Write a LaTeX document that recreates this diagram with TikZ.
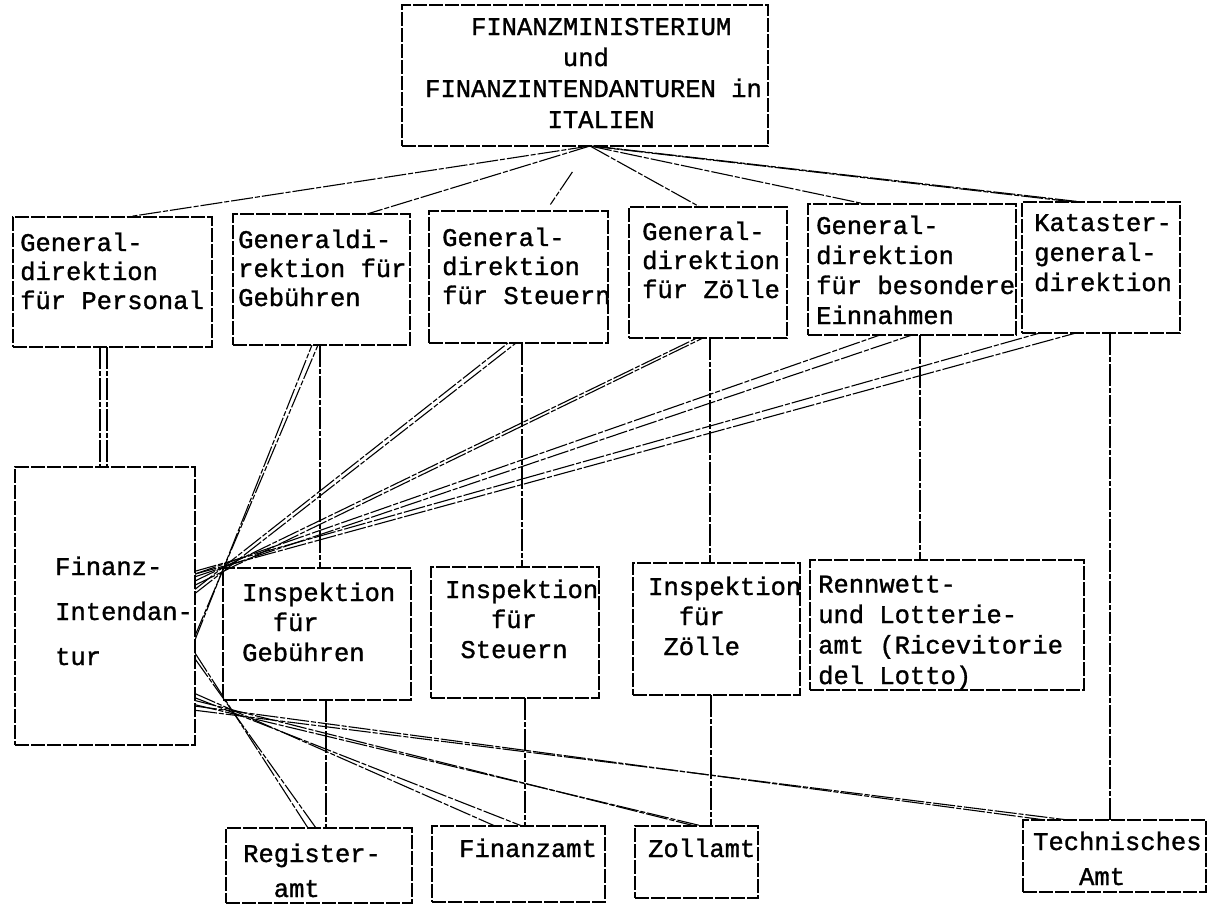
\documentclass[tikz,border=0pt]{standalone}
\usepackage{fontspec}
\setmonofont{Liberation Mono}
\newfontfamily\typen[FakeBold=1.2]{Liberation Mono}
\usetikzlibrary{calc}
\tikzset{
    kasten/.style={draw, rectangle, anchor=north west, inner sep=0pt, outer sep=0pt,
        line width=1.2pt, dash pattern=on 14pt off 2pt},
    schrift/.style={anchor=base west, align=left, inner sep=0pt,
        font=\typen\fontsize{25.5}{#1}\selectfont},
    schrift/.default=29,
    linie/.style={line width=1.1pt, dash pattern=on 22pt off 2pt on 5pt off 2pt},
}
\newcommand\Kasten[5]{%
    \node[kasten, minimum width={#4-#2}, minimum height={#5-#3}] (#1) at (#2,#3) {};
}
\newcommand\ObenStrahl[2]{%
    \draw[linie] ($(FI.north east)!#1!(FI.south east)$) -- (#2);
}

\begin{document}
\begin{tikzpicture}[x=1pt,y=-1pt]
    \fill[white] (0,0) rectangle (1221,905);
    \useasboundingbox (0,0) rectangle (1221,905);
    % Ministerium (Textknoten: Basislinie der letzten Zeile)
    \Kasten{FM}{402}{5}{768}{146}
    \node[schrift=31] (FM-t) at (425,128) {~~~FINANZMINISTERIUM\\~~~~~~~~~und\\FINANZINTENDANTUREN in\\~~~~~~~~ITALIEN};
    % Generaldirektionen
    \Kasten{gdP}{13}{217}{212}{347}
    \Kasten{gdG}{233}{214}{410}{345}
    \Kasten{gdS}{429}{211}{608}{343}
    \Kasten{gdZ}{629}{207}{787}{338}
    \Kasten{gdB}{808}{204}{1016}{335}
    \Kasten{kat}{1022}{202}{1180}{333}
    \node[schrift] (gdP-t) at (20,309) {General-\\direktion\\für Personal};
    \node[schrift] (gdG-t) at (238,306) {Generaldi-\\rektion für\\Gebühren};
    \node[schrift] (gdS-t) at (442,304) {General-\\direktion\\für Steuern};
    \node[schrift] (gdZ-t) at (642,298) {General-\\direktion\\für Zölle};
    \node[schrift=30] (gdB-t) at (816,324) {General-\\direktion\\für besondere\\Einnahmen};
    \node[schrift=30] (kat-t) at (1034,291) {Kataster-\\general-\\direktion};
    % Intendantur und Inspektionen
    \Kasten{FI}{15}{467}{195}{745}
    \Kasten{insG}{223}{568}{411}{700}
    \Kasten{insS}{431}{567}{599}{698}
    \Kasten{insZ}{633}{563}{800}{695}
    \Kasten{lotto}{810}{560}{1084}{690}
    \node[schrift=45] (FI-t) at (55,665) {Finanz-\\Intendan-\\tur};
    \node[schrift=30] (insG-t) at (242,661) {Inspektion\\~~für\\Gebühren};
    \node[schrift=30] (insS-t) at (445,658) {Inspektion\\~~~für\\~Steuern};
    \node[schrift=30] (insZ-t) at (648,655) {Inspektion\\~~für\\~Zölle};
    \node[schrift=30.5] (lotto-t) at (818,684) {Rennwett-\\und Lotterie-\\amt (Ricevitorie\\del Lotto)};
    % Aemter
    \Kasten{reg}{226}{828}{412}{903}
    \Kasten{fin}{432}{826}{605}{902}
    \Kasten{zoll}{635}{826}{758}{898}
    \Kasten{tech}{1023}{820}{1206}{892}
    \node[schrift=35] (reg-t) at (243,897) {Register-\\~~amt};
    \node[schrift] (fin-t) at (459,857) {Finanzamt};
    \node[schrift] (zoll-t) at (648,857) {Zollamt};
    \node[schrift=35] (tech-t) at (1033,885) {Technisches\\~~~Amt};
    % Ministerium -> Generaldirektionen
    \draw[linie] ([xshift=5pt]FM.south) -- (127,0 |- gdP.north);
    \draw[linie] ([xshift=5pt]FM.south) -- (367,0 |- gdG.north);
    \draw[linie] ($([xshift=5pt]FM.south)!0.4!(546,0 |- gdS.north)$) -- ($([xshift=5pt]FM.south)!0.9!(546,0 |- gdS.north)$);
    \draw[linie] ([xshift=5pt]FM.south) -- (700,0 |- gdZ.north);
    \draw[linie] ([xshift=5pt]FM.south) -- (865,0 |- gdB.north);
    \draw[linie] ([xshift=5pt]FM.south) -- (1074,0 |- kat.north);
    \draw[linie] ([xshift=8pt]FM.south) -- (1082,0 |- kat.north);
    % senkrechte Linien
    \draw[linie] (100,0 |- gdP.south) -- (100,0 |- FI.north);
    \draw[linie] (107,0 |- gdP.south) -- (107,0 |- FI.north);
    \draw[linie] (320,0 |- gdG.south) -- (320,0 |- insG.north);
    \draw[linie] (522,0 |- gdS.south) -- (522,0 |- insS.north);
    \draw[linie] (710,0 |- gdZ.south) -- (710,0 |- insZ.north);
    \draw[linie] (920,0 |- gdB.south) -- (920,0 |- lotto.north);
    \draw[linie] (1110,0 |- kat.south) -- (1110,0 |- tech.north);
    \draw[linie] (326,0 |- insG.south) -- (326,0 |- reg.north);
    \draw[linie] (525,0 |- insS.south) -- (525,0 |- fin.north);
    \draw[linie] (711,0 |- insZ.south) -- (711,0 |- zoll.north);
    % Intendantur -> Generaldirektionen
    \ObenStrahl{0.622}{312,0 |- gdG.south}
    \ObenStrahl{0.607}{318,0 |- gdG.south}
    \ObenStrahl{0.44}{508,0 |- gdS.south}
    \ObenStrahl{0.455}{516,0 |- gdS.south}
    \ObenStrahl{0.41}{697,0 |- gdZ.south}
    \ObenStrahl{0.425}{703,0 |- gdZ.south}
    \ObenStrahl{0.385}{880,0 |- gdB.south}
    \ObenStrahl{0.395}{912,0 |- gdB.south}
    \ObenStrahl{0.375}{1040,0 |- kat.south}
    \ObenStrahl{0.385}{1076,0 |- kat.south}
    % Intendantur -> Aemter
    \ObenStrahl{0.669}{308,0 |- reg.north}
    \ObenStrahl{0.69}{316,0 |- reg.north}
    \ObenStrahl{0.815}{495,0 |- fin.north}
    \ObenStrahl{0.83}{522,0 |- fin.north}
    \ObenStrahl{0.84}{695,0 |- zoll.north}
    \ObenStrahl{0.855}{702,0 |- zoll.north}
    \ObenStrahl{0.86}{1045,0 |- tech.north}
    \ObenStrahl{0.875}{1068,0 |- tech.north}
\end{tikzpicture}
\end{document}
